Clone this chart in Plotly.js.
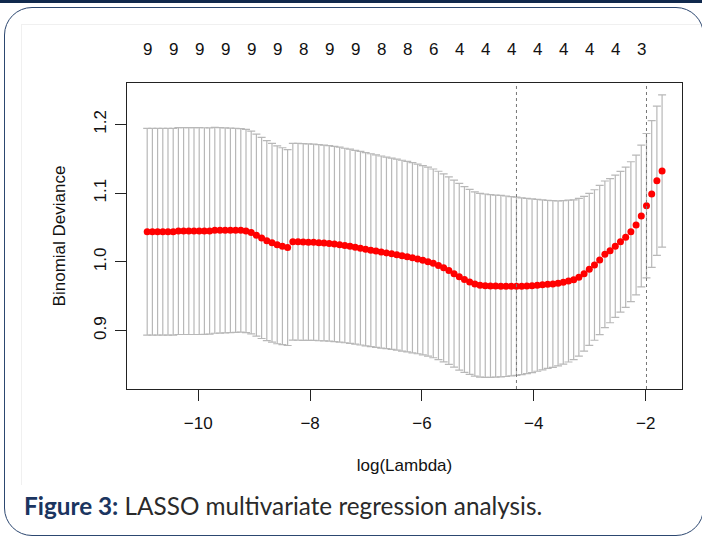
<!DOCTYPE html>
<html>
<head>
<meta charset="utf-8">
<script src="https://cdn.plot.ly/plotly-3.0.1.min.js"></script>
<style>
  html, body { margin: 0; padding: 0; background: #ffffff; }
  #wrap { position: relative; width: 702px; height: 539px; overflow: hidden; background: #ffffff; }
  #topbar { position: absolute; left: 0; top: 0; width: 702px; height: 3px; background: #10294d; }
  #frame { position: absolute; left: 4px; top: 7px; width: 700px; height: 529px; border: 1.5px solid #2c4770; border-radius: 28px; box-sizing: border-box; pointer-events: none; }
  #inner { position: absolute; left: 21px; top: 24px; width: 690px; height: 460px; border-top: 1px solid #f0f0f0; border-left: 1px solid #f0f0f0; pointer-events: none; }
  #chart { position: absolute; left: 0; top: 0; width: 702px; height: 539px; }
</style>
</head>
<body>
<div id="wrap">
  <div id="topbar"></div>
  <div id="inner"></div>
  <div id="chart"></div>
  <div id="frame"></div>
</div>
<script>
// log(lambda) grid (x positions of the 100 lambda values)
const logLambda = [
  -10.913,-10.820,-10.727,-10.634,-10.541,-10.448,-10.355,-10.262,-10.169,-10.076,
  -9.983,-9.890,-9.797,-9.704,-9.611,-9.518,-9.425,-9.332,-9.239,-9.146,
  -9.053,-8.960,-8.867,-8.774,-8.681,-8.588,-8.495,-8.402,-8.309,-8.216,
  -8.123,-8.030,-7.937,-7.844,-7.751,-7.658,-7.565,-7.472,-7.379,-7.286,
  -7.193,-7.100,-7.007,-6.914,-6.821,-6.728,-6.635,-6.542,-6.449,-6.356,
  -6.263,-6.170,-6.077,-5.984,-5.891,-5.798,-5.705,-5.612,-5.519,-5.426,
  -5.333,-5.240,-5.147,-5.054,-4.961,-4.868,-4.775,-4.682,-4.589,-4.496,
  -4.403,-4.310,-4.217,-4.124,-4.031,-3.938,-3.845,-3.752,-3.659,-3.566,
  -3.473,-3.380,-3.287,-3.194,-3.101,-3.008,-2.915,-2.822,-2.729,-2.636,
  -2.543,-2.450,-2.357,-2.264,-2.171,-2.078,-1.985,-1.892,-1.799,-1.706
];
// mean cross-validated binomial deviance
const cvm = [
  1.044,1.044,1.044,1.044,1.044,1.044,1.045,1.045,1.045,1.045,
  1.045,1.045,1.045,1.046,1.046,1.046,1.046,1.046,1.046,1.045,
  1.043,1.039,1.035,1.031,1.028,1.025,1.023,1.021,1.0295,1.0293,
  1.029,1.0288,1.0286,1.028,1.0275,1.027,1.0262,1.0252,1.024,1.0228,
  1.0215,1.0200,1.0186,1.0172,1.0158,1.0145,1.0132,1.0120,1.0107,1.0092,
  1.0077,1.0062,1.0045,1.0025,1.0004,0.9980,0.9950,0.9915,0.9875,0.9830,
  0.9785,0.9745,0.9710,0.9680,0.9662,0.9655,0.9651,0.9649,0.9648,0.9647,
  0.9647,0.9647,0.9648,0.9650,0.9654,0.9660,0.9667,0.9675,0.9680,0.9689,
  0.9704,0.9723,0.9742,0.9777,0.9829,0.9893,0.9956,1.0029,1.0111,1.0164,
  1.0228,1.0295,1.0359,1.0440,1.0538,1.0669,1.0819,1.0989,1.1182,1.1323
];
// standard error of the deviance (error bar half-length)
const cvsd = [
  0.1505,0.1505,0.1505,0.1505,0.1505,0.1505,0.1505,0.1505,0.1505,0.1505,
  0.1505,0.1503,0.1500,0.1497,0.1494,0.1490,0.1487,0.1484,0.1480,0.1478,
  0.1475,0.1470,0.1463,0.1455,0.1447,0.1440,0.1432,0.1425,0.1432,0.1432,
  0.1431,0.1430,0.1428,0.1426,0.1424,0.1422,0.1420,0.1418,0.1415,0.1413,
  0.1410,0.1408,0.1406,0.1403,0.1400,0.1397,0.1394,0.1392,0.1390,0.1388,
  0.1386,0.1383,0.1380,0.1377,0.1375,0.1373,0.1370,0.1367,0.1364,0.1361,
  0.1358,0.1352,0.1345,0.1340,0.1337,0.1334,0.1330,0.1325,0.1320,0.1313,
  0.1305,0.1296,0.1286,0.1275,0.1263,0.1250,0.1237,0.1222,0.1212,0.1200,
  0.1190,0.1178,0.1163,0.1147,0.1125,0.1105,0.1095,0.1085,0.1067,0.1048,
  0.1035,0.1024,0.1020,0.1018,0.1018,0.1031,0.1050,0.1067,0.1087,0.1108
];
// top axis: number of non-zero coefficients
const nzeroPos = [-10.913,-10.448,-9.983,-9.518,-9.053,-8.588,-8.123,-7.658,-7.193,-6.728,
                  -6.263,-5.798,-5.333,-4.868,-4.403,-3.938,-3.473,-3.008,-2.543,-2.078];
const nzeroLabels = ['9','9','9','9','9','9','8','9','9','8','8','6','4','4','4','4','4','4','4','3'];
// axis ticks
const xTickVals = [-10,-8,-6,-4,-2];
const yTickVals = [0.9,1.0,1.1,1.2];
// selected lambdas
const lambdaMinLog = -4.310;
const lambda1seLog = -1.985;

const FONT = 'Liberation Sans, Arial, Helvetica, sans-serif';
const TXT = '#111111';

const trace = {
  x: logLambda,
  y: cvm,
  type: 'scatter',
  mode: 'markers',
  marker: { color: '#ff0000', size: 7 },
  error_y: { type: 'data', array: cvsd, visible: true, color: '#b8b8b8', thickness: 1.2, width: 4 },
  hoverinfo: 'x+y',
  showlegend: false
};

const annotations = nzeroPos.map((p, i) => ({
  x: p, xref: 'x', y: 1, yref: 'paper', yanchor: 'bottom', yshift: 22,
  text: nzeroLabels[i], showarrow: false,
  font: { family: FONT, size: 17, color: TXT }
}));
annotations.push({
  x: 0, xref: 'paper', y: 0, yref: 'paper', showarrow: false,
  text: '<b><span style="color:#1b3560">Figure 3:</span></b> LASSO multivariate regression analysis.',
  font: { family: 'Lato, Open Sans, sans-serif', size: 24.3, color: '#2a2a2a' },
  xanchor: 'left', yanchor: 'middle'
});

const layout = {
  width: 702, height: 539,
  margin: { l: 127, r: 20, t: 83, b: 150 },
  paper_bgcolor: 'rgba(0,0,0,0)',
  plot_bgcolor: '#ffffff',
  font: { family: FONT, size: 17, color: TXT },
  xaxis: {
    range: [-11.274, -1.350],
    tickvals: xTickVals,
    ticks: 'outside', ticklen: 11, tickcolor: '#222', tickwidth: 1,
    ticklabelstandoff: 8,
    showline: true, mirror: true, linecolor: '#222', linewidth: 1,
    showgrid: false, zeroline: false,
    tickfont: { family: FONT, size: 17, color: TXT },
    title: { text: 'log(Lambda)', font: { family: FONT, size: 17, color: TXT }, standoff: 26 }
  },
  yaxis: {
    range: [0.8152, 1.2604],
    tickvals: yTickVals,
    tickformat: '.1f',
    tickangle: -90,
    ticks: 'outside', ticklen: 11, tickcolor: '#222', tickwidth: 1,
    ticklabelstandoff: 2,
    showline: true, mirror: true, linecolor: '#222', linewidth: 1,
    showgrid: false, zeroline: false,
    tickfont: { family: FONT, size: 17, color: TXT },
    title: { text: 'Binomial Deviance', font: { family: FONT, size: 17, color: TXT }, standoff: 21 }
  },
  shapes: [lambdaMinLog, lambda1seLog].map(v => ({
    type: 'line', xref: 'x', yref: 'paper', x0: v, x1: v, y0: 0, y1: 1,
    line: { color: '#777777', width: 1, dash: 'dot' }
  })),
  annotations: annotations
};

// place caption in pixel terms: left 22px, center y 505px
const plotW = 702 - 127 - 20, plotH = 539 - 83 - 150;
const cap = layout.annotations[layout.annotations.length - 1];
cap.x = (22 - 127) / plotW;
cap.y = (539 - 150 - 505) / plotH;

Plotly.newPlot('chart', [trace], layout, { displayModeBar: false, staticPlot: true });
</script>
</body>
</html>
